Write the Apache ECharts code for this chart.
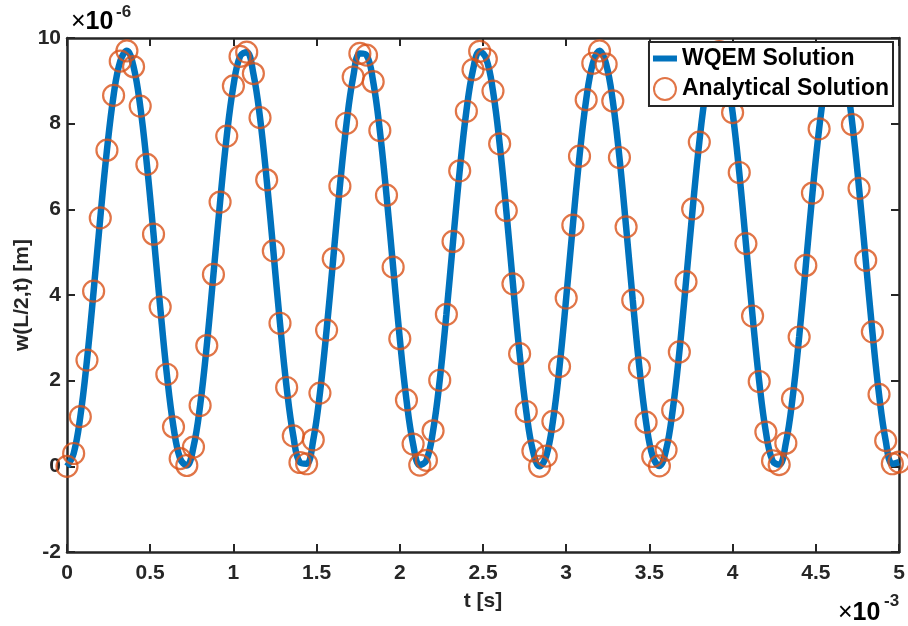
<!DOCTYPE html>
<html>
<head>
<meta charset="utf-8">
<script src="https://cdn.jsdelivr.net/npm/echarts@6/dist/echarts.min.js"></script>
<style>
  html, body { margin: 0; padding: 0; background: #fff; }
  #main { width: 908px; height: 626px; }
</style>
</head>
<body>
<div id="main"></div>
<script>
// time axis, units of 1e-3 s
const timeMs = [
  0, 0.04, 0.08, 0.12, 0.16, 0.2, 0.24, 0.28, 0.32, 0.36,
  0.4, 0.44, 0.48, 0.52, 0.56, 0.6, 0.64, 0.68, 0.72, 0.76,
  0.8, 0.84, 0.88, 0.92, 0.96, 1.0, 1.04, 1.08, 1.12, 1.16,
  1.2, 1.24, 1.28, 1.32, 1.36, 1.4, 1.44, 1.48, 1.52, 1.56,
  1.6, 1.64, 1.68, 1.72, 1.76, 1.8, 1.84, 1.88, 1.92, 1.96,
  2.0, 2.04, 2.08, 2.12, 2.16, 2.2, 2.24, 2.28, 2.32, 2.36,
  2.4, 2.44, 2.48, 2.52, 2.56, 2.6, 2.64, 2.68, 2.72, 2.76,
  2.8, 2.84, 2.88, 2.92, 2.96, 3.0, 3.04, 3.08, 3.12, 3.16,
  3.2, 3.24, 3.28, 3.32, 3.36, 3.4, 3.44, 3.48, 3.52, 3.56,
  3.6, 3.64, 3.68, 3.72, 3.76, 3.8, 3.84, 3.88, 3.92, 3.96,
  4.0, 4.04, 4.08, 4.12, 4.16, 4.2, 4.24, 4.28, 4.32, 4.36,
  4.4, 4.44, 4.48, 4.52, 4.56, 4.6, 4.64, 4.68, 4.72, 4.76,
  4.8, 4.84, 4.88, 4.92, 4.96, 5.0
]
// mid-span deflection, units of 1e-6 m
const wqem = [
  0.00, 0.30, 1.16, 2.48, 4.09, 5.80, 7.38, 8.66, 9.46, 9.70,
  9.33, 8.41, 7.05, 5.42, 3.72, 2.15, 0.92, 0.18, 0.02, 0.45,
  1.42, 2.82, 4.48, 6.17, 7.71, 8.88, 9.57, 9.67, 9.17, 8.14,
  6.69, 5.03, 3.34, 1.84, 0.71, 0.09, 0.06, 0.62, 1.71, 3.18,
  4.85, 6.54, 8.01, 9.09, 9.64, 9.60, 8.98, 7.84, 6.33, 4.65,
  2.98, 1.55, 0.52, 0.03, 0.14, 0.83, 2.01, 3.55, 5.25, 6.90,
  8.29, 9.26, 9.69, 9.51, 8.76, 7.53, 5.97, 4.26, 2.63, 1.28,
  0.36, 0.00, 0.24, 1.05, 2.33, 3.93, 5.63, 7.24, 8.56, 9.41,
  9.70, 9.39, 8.53, 7.21, 5.59, 3.88, 2.30, 1.03, 0.23, 0.01,
  0.38, 1.31, 2.67, 4.31, 6.01, 7.57, 8.79, 9.53, 9.68, 9.24,
  8.26, 6.86, 5.20, 3.51, 1.98, 0.80, 0.13, 0.04, 0.54, 1.58,
  3.02, 4.69, 6.38, 7.88, 9.00, 9.61, 9.64, 9.07, 7.98, 6.49,
  4.81, 3.14, 1.68, 0.60, 0.06, 0.10
]
const analytical = wqem.slice()
const xTicks = [0, 5, 0.5]   // min, max, step
const yTicks = [-2, 10, 2]

const axisColor = '#262626'
const font = 'Liberation Sans, Arial, Helvetica, sans-serif'
// thick short bar for the line legend entry (tiny corner dots keep the box 24x22)
const lineIcon = 'path://M0,0L0.01,0L0,0.01Z M0,8L24,8L24,14L0,14Z M24,22L23.99,22L24,21.99Z'

const linePts = timeMs.map((t, i) => [t, wqem[i]])
const markPts = timeMs.map((t, i) => [t, analytical[i]])

function xAx(pos, showLabel) {
  return {
    type: 'value',
    position: pos,
    min: xTicks[0], max: xTicks[1], interval: xTicks[2],
    name: showLabel ? 't [s]' : '',
    nameLocation: 'middle',
    nameGap: 39,
    nameMoveOverlap: false,
    nameTextStyle: { fontFamily: font, fontWeight: 'bold', fontSize: 21, color: axisColor },
    axisLine: { show: true, onZero: false, lineStyle: { color: axisColor, width: 2.5 } },
    axisTick: { show: true, inside: true, length: 8, lineStyle: { color: axisColor, width: 2 } },
    axisLabel: { show: showLabel, margin: 11, fontFamily: font, fontWeight: 'bold', fontSize: 21, color: axisColor },
    splitLine: { show: false },
  }
}
function yAx(pos, showLabel) {
  return {
    type: 'value',
    position: pos,
    min: yTicks[0], max: yTicks[1], interval: yTicks[2],
    name: showLabel ? 'w(L/2,t) [m]' : '',
    nameLocation: 'middle',
    nameGap: 34,
    nameMoveOverlap: false,
    nameTextStyle: { fontFamily: font, fontWeight: 'bold', fontSize: 21, color: axisColor },
    axisLine: { show: true, onZero: false, lineStyle: { color: axisColor, width: 2.5 } },
    axisTick: { show: true, inside: true, length: 8, lineStyle: { color: axisColor, width: 2 } },
    axisLabel: { show: showLabel, margin: 6, fontFamily: font, fontWeight: 'bold', fontSize: 21, color: axisColor },
    splitLine: { show: false },
  }
}

const expRich = {
  a: { fontFamily: font, fontWeight: 'normal', fontSize: 25, color: axisColor },
  b: { fontFamily: font, fontWeight: 'bold', fontSize: 25, color: axisColor },
}

const chart = echarts.init(document.getElementById('main'))
chart.setOption({
  backgroundColor: '#fff',
  animation: false,
  grid: { left: 67, top: 38, right: 9, bottom: 74, containLabel: false, outerBoundsMode: 'none' },
  xAxis: [xAx('bottom', true), xAx('top', false)],
  yAxis: [yAx('left', true), yAx('right', false)],
  legend: {
    orient: 'vertical',
    right: 15,
    top: 42,
    itemWidth: 24,
    itemHeight: 22,
    itemGap: 7,
    padding: [5, 4, 5, 4],
    backgroundColor: '#fff',
    borderColor: axisColor,
    borderWidth: 2,
    textStyle: { fontFamily: font, fontWeight: 'bold', fontSize: 23, color: '#000' },
    data: [
      { name: 'WQEM Solution', icon: lineIcon, itemStyle: { color: '#0072BD', borderWidth: 0 } },
      { name: 'Analytical Solution', icon: 'circle' },
    ],
  },
  graphic: [
    { type: 'text', left: 71, top: 10, style: { text: '{a|×}{b|10}', rich: expRich } },
    { type: 'text', left: 116, top: 4, style: { text: '-6', font: 'bold 17px ' + font, fill: axisColor } },
    { type: 'text', left: 838, top: 601, style: { text: '{a|×}{b|10}', rich: expRich } },
    { type: 'text', left: 884, top: 593, style: { text: '-3', font: 'bold 17px ' + font, fill: axisColor } },
  ],
  series: [
    {
      name: 'WQEM Solution',
      type: 'line',
      data: linePts,
      smooth: 0.4,
      showSymbol: false,
      symbol: 'none',
      color: '#0072BD',
      lineStyle: { color: '#0072BD', width: 6.5 },
      z: 2,
    },
    {
      name: 'Analytical Solution',
      type: 'scatter',
      data: markPts,
      symbol: 'circle',
      symbolSize: 21,
      clip: false,
      itemStyle: { color: 'rgba(0,0,0,0)', borderColor: '#D95319', borderWidth: 2.2 },
      z: 3,
    },
  ],
})
</script>
</body>
</html>
